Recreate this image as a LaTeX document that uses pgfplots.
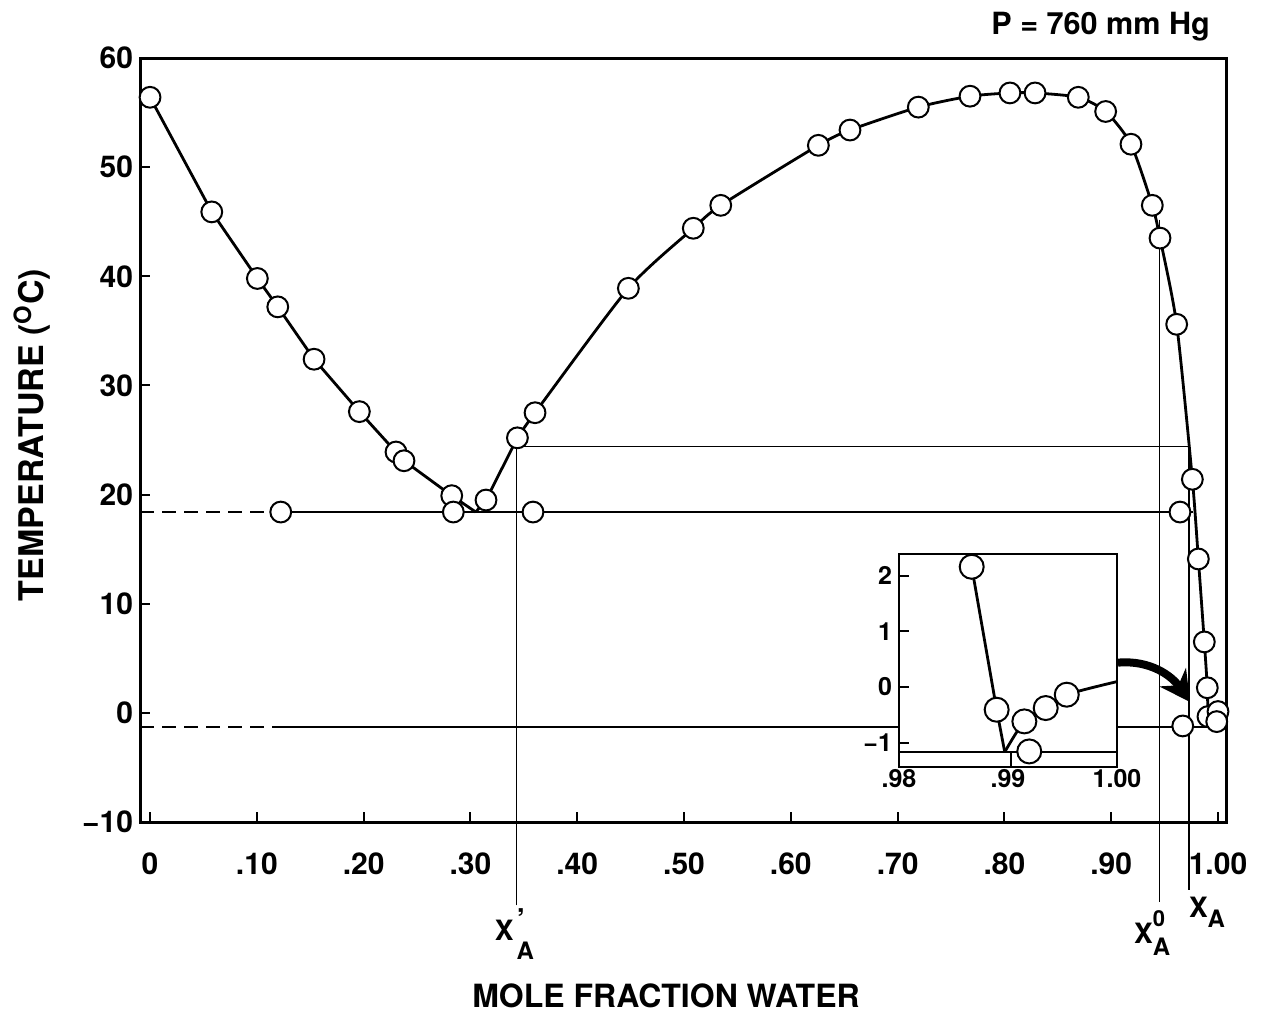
\documentclass[border=0pt]{standalone}
\usepackage{fontspec}
\setmainfont{TeX Gyre Heros}
\usepackage{pgfplots}
\pgfplotsset{compat=1.18}
\usetikzlibrary{arrows.meta}
\begin{document}
\begin{tikzpicture}[x=1pt,y=1pt]
\path[use as bounding box] (0,0) rectangle (632,506.5);
\begin{axis}[
  at={(70pt,95.5pt)}, anchor=south west,
  scale only axis, width=543pt, height=382pt,
  xmin=-0.0094, xmax=1.0075, ymin=-10, ymax=60,
  clip=false,
  axis line style={line width=1.5pt},
  tick align=inside, xtick pos=bottom, ytick pos=left,
  major tick length=5pt,
  tick style={line width=1pt, black},
  xtick={0,0.1,0.2,0.3,0.4,0.5,0.6,0.7,0.8,0.9,1.0},
  xticklabels={0,.10,.20,.30,.40,.50,.60,.70,.80,.90,1.00},
  ytick={-10,0,10,20,30,40,50,60},
  yticklabels={−10,0,10,20,30,40,50,60},
  ticklabel style={font=\fontsize{15}{18}\selectfont\bfseries},
  xticklabel style={yshift=-12pt},
  /pgf/number format/assume math mode=true,
]
% three-phase lines
\addplot[line width=1.3pt, dash pattern=on 7pt off 4pt] coordinates {(-0.0094,18.4) (0.12,18.4)};
\addplot[line width=1.3pt] coordinates {(0.12,18.4) (0.977,18.4)};
\addplot[line width=1.3pt, dash pattern=on 7pt off 4pt] coordinates {(-0.0094,-1.3) (0.117,-1.3)};
\addplot[line width=1.3pt] coordinates {(0.117,-1.3) (0.99,-1.3)};
% tie line and composition drop lines
\addplot[line width=0.7pt] coordinates {(0.343,-17.64) (0.343,24.4) (0.973,24.4) (0.973,-16.26)};
\addplot[line width=0.7pt] coordinates {(0.945,45.2) (0.945,-17.36)};
% left branch
\addplot[line width=1.4pt] coordinates {(0,56.4) (0.0578,45.9) (0.1005,39.8) (0.1196,37.2) (0.1536,32.4) (0.196,27.6) (0.2303,23.9) (0.2378,23.1) (0.2825,19.9) (0.305,18.4)};
% right branch
\addplot[line width=1.4pt] coordinates {(0.305,18.4) (0.3146,19.5) (0.344,25.2)};
\addplot[line width=1.4pt, smooth, tension=0.4] coordinates {(0.344,25.2) (0.3605,27.5) (0.4479,38.9) (0.5087,44.4) (0.5344,46.5) (0.6258,52.0) (0.6554,53.4) (0.7194,55.5) (0.7678,56.5) (0.8052,56.8) (0.8287,56.8) (0.8692,56.4) (0.8948,55.1) (0.9185,52.1) (0.9385,46.5) (0.9457,43.5) (0.9613,35.6) (0.976,21.4) (0.9816,14.1) (0.9872,6.5) (0.990,2.3) (0.9905,-0.4) (0.991,-1.3)};
% data points
\addplot[only marks, mark=*, mark size=5.2pt, mark options={fill=white, draw=black, line width=1pt}] coordinates {
(0,56.4) (0.0578,45.9) (0.1005,39.8) (0.1196,37.2) (0.1536,32.4) (0.196,27.6) (0.2303,23.9) (0.2378,23.1) (0.2825,19.9)
(0.1224,18.4) (0.2840,18.4) (0.3586,18.4) (0.9644,18.4)
(0.3146,19.5) (0.344,25.2) (0.3605,27.5) (0.4479,38.9) (0.5087,44.4) (0.5344,46.5) (0.6258,52.0) (0.6554,53.4) (0.7194,55.5) (0.7678,56.5) (0.8052,56.8) (0.8287,56.8) (0.8692,56.4) (0.8948,55.1) (0.9185,52.1) (0.9385,46.5) (0.9457,43.5) (0.9613,35.6) (0.976,21.4) (0.9816,14.1) (0.9872,6.5) (0.990,2.3)
(0.9906,-0.34) (1.000,0.12) (0.9988,-0.8) (0.967,-1.2)
};
% arrow from inset
\draw[line width=4pt, -{Stealth[length=15pt,width=16pt]}] (axis cs:0.9064,4.6) to[out=5, in=125] (axis cs:0.9738,1.0);
% composition labels
\node[font=\fontsize{14}{16}\selectfont\bfseries] at (axis cs:0.3317,-19.93) {X};
\node[font=\fontsize{15}{16}\selectfont\bfseries] at (axis cs:0.3475,-18.9) {’};
\node[font=\fontsize{12}{14}\selectfont\bfseries] at (axis cs:0.3514,-21.77) {A};
\node[font=\fontsize{14}{16}\selectfont\bfseries] at (axis cs:0.9301,-20.24) {X};
\node[font=\fontsize{11}{13}\selectfont\bfseries] at (axis cs:0.9447,-18.86) {0};
\node[font=\fontsize{12}{14}\selectfont\bfseries] at (axis cs:0.9472,-21.47) {A};
\node[font=\fontsize{14}{16}\selectfont\bfseries] at (axis cs:0.9818,-17.79) {X};
\node[font=\fontsize{12}{14}\selectfont\bfseries] at (axis cs:0.9983,-18.86) {A};
\end{axis}
% inset
\begin{axis}[
  at={(449.5pt,123pt)}, anchor=south west,
  scale only axis, width=109pt, height=106.5pt,
  xmin=0.98, xmax=1.0, ymin=-1.44, ymax=2.39,
  axis background/.style={fill=white},
  axis line style={line width=1pt},
  tick align=inside, xtick pos=bottom, ytick pos=left,
  major tick length=5pt,
  tick style={line width=1pt, black},
  xtick style={draw=none},
  xtick={0.98,0.99,1.0}, xticklabels={.98,.99,1.00},
  ytick={-1,0,1,2}, yticklabels={−1,0,1,2},
  ticklabel style={font=\fontsize{12.5}{15}\selectfont\bfseries},
  xticklabel style={inner sep=1pt},
  clip=false,
]
\addplot[line width=1.3pt] coordinates {(0.98,-1.17) (1.0,-1.17)};
\addplot[line width=0.8pt] coordinates {(0.9903,-1.44) (0.9903,-1.17)};
\addplot[line width=1.4pt] coordinates {(0.98667,2.16) (0.98896,-0.41) (0.9897,-1.17)};
\addplot[line width=1.4pt, smooth] coordinates {(0.9897,-1.17) (0.9915,-0.62) (0.99346,-0.38) (0.99539,-0.14) (1.0,0.095)};
\addplot[only marks, mark=*, mark size=6pt, mark options={fill=white, draw=black, line width=1pt}] coordinates {
(0.98667,2.16) (0.98896,-0.41) (0.9915,-0.62) (0.99346,-0.38) (0.99539,-0.14) (0.99195,-1.16)};
\end{axis}
\node[font=\fontsize{15.3}{18}\selectfont\bfseries, anchor=east] at (608.5,493) {P = 760 mm Hg};
\node[font=\fontsize{16}{19}\selectfont\bfseries] at (333,8.5) {MOLE FRACTION WATER};
\node[font=\fontsize{17}{20}\selectfont\bfseries, rotate=90] at (16,289) {TEMPERATURE (\textsuperscript{O}C)};
\end{tikzpicture}
\end{document}
